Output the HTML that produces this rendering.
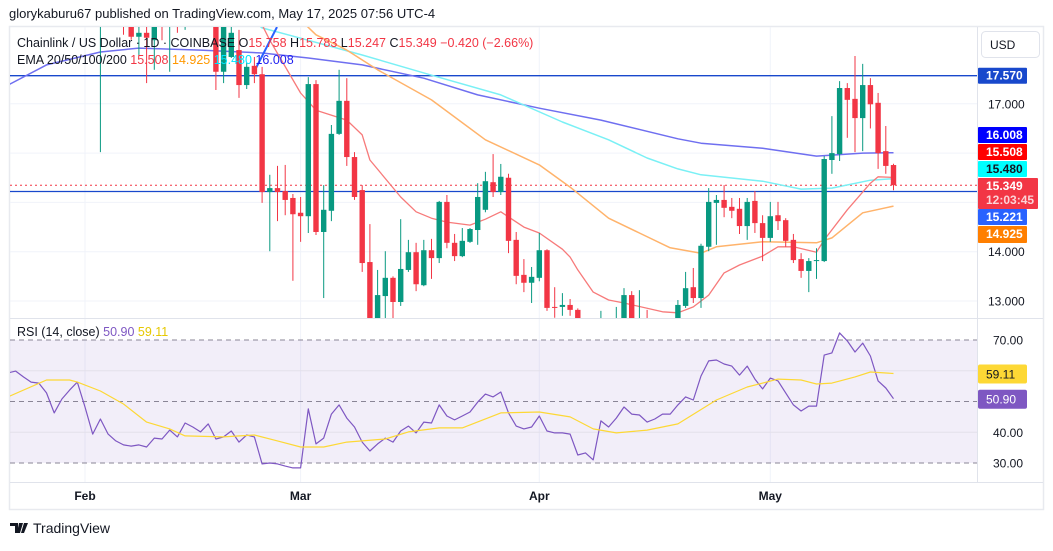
<!DOCTYPE html>
<html><head><meta charset="utf-8">
<style>
html,body{margin:0;padding:0;background:#fff;}
body{width:1053px;height:546px;overflow:hidden;font-family:"Liberation Sans",Arial,sans-serif;}
svg text{font-family:"Liberation Sans",Arial,sans-serif;}
</style></head>
<body>
<svg id="chart" width="1053" height="546" viewBox="0 0 1053 546" xmlns="http://www.w3.org/2000/svg">
<defs>
<clipPath id="cp"><rect x="10" y="27" width="967" height="291"/></clipPath>
<clipPath id="cr"><rect x="10" y="319" width="967" height="163"/></clipPath>
</defs>
<text x="9" y="18" font-size="13" fill="#131722">glorykaburu67 published on TradingView.com, May 17, 2025 07:56 UTC-4</text>
<rect x="9.5" y="26.5" width="1034" height="483" fill="none" stroke="#e8eaef" stroke-width="1.5"/>
<g id="grid"></g>
<rect x="10" y="340" width="967" height="123" fill="#7e57c2" fill-opacity="0.1"/>
<g id="rsigrid"></g>
<g id="price" clip-path="url(#cp)"></g>
<g id="rsi" clip-path="url(#cr)"></g>
<line x1="10" y1="318.5" x2="1043" y2="318.5" stroke="#e0e3eb"/>
<line x1="10" y1="482.5" x2="1043" y2="482.5" stroke="#e0e3eb"/>
<line x1="977.5" y1="27" x2="977.5" y2="482" stroke="#e0e3eb"/>
<g id="axis"></g>
<g font-size="12.5">
<text x="17" y="47" fill="#131722">Chainlink / US Dollar · 1D · COINBASE <tspan fill="#131722">O</tspan><tspan fill="#f23645">15.758</tspan> <tspan fill="#131722">H</tspan><tspan fill="#f23645">15.783</tspan> <tspan fill="#131722">L</tspan><tspan fill="#f23645">15.247</tspan> <tspan fill="#131722">C</tspan><tspan fill="#f23645">15.349</tspan> <tspan fill="#f23645">−0.420 (−2.66%)</tspan></text>
<text x="17" y="64" fill="#131722">EMA 20/50/100/200 <tspan fill="#f23645">15.508</tspan> <tspan fill="#ff9800">14.925</tspan> <tspan fill="#00e5ff">15.480</tspan> <tspan fill="#1e1ef0">16.008</tspan></text>
<text x="17" y="336" fill="#131722">RSI (14, close) <tspan fill="#7e57c2">50.90</tspan> <tspan fill="#e6c800">59.11</tspan></text>
</g>
<g>
<rect x="981.5" y="31.5" width="58" height="26" rx="4" fill="#fff" stroke="#e0e3eb"/>
<text x="990" y="49" font-size="12" fill="#131722">USD</text>
</g>
<g>
<path d="M10 523h8v10h-3v-7h-5z M19 523h4l-3 10h-3z M24 523h4l-4 10h-3z" fill="#131722"/>
<text x="33" y="533" font-size="14" fill="#131722">TradingView</text>
</g>
</svg>
<script>
// ---- data ----
const startDay = 12;
const opens = [18.8,19.0,19.8,19.2,18.9,18.36,18.44,18.29,18.9,18.6,19.0,18.8,19.0,19.4,19.2,19.0,17.65,17.95,18.09,17.38,17.77,17.60,15.21,15.29,15.23,15.09,14.79,14.72,17.40,14.40,14.83,16.39,17.06,15.92,15.25,13.79,12.6,13.10,13.47,12.98,13.63,13.99,13.32,14.03,13.87,15.01,14.18,13.91,14.20,14.44,14.85,15.41,15.21,15.50,14.24,13.53,13.37,13.47,14.03,12.88,12.88,12.92,12.82,12.55,12.30,12.40,12.60,12.50,12.50,13.12,12.60,12.64,12.55,12.60,12.55,12.50,12.90,13.28,13.06,14.10,14.99,15.05,14.91,14.87,14.52,15.03,14.58,14.28,14.74,14.64,14.24,13.85,13.61,13.81,13.81,15.86,15.98,17.32,17.10,16.71,17.38,17.02,16.04,15.758];
const highs = [19.2,20.0,20.0,19.4,19.0,18.7,18.6,19.0,19.1,19.0,19.2,19.3,19.6,19.7,19.8,19.3,18.9,18.7,18.5,17.83,17.95,17.75,15.56,15.74,15.76,15.17,15.11,17.54,17.48,15.35,16.57,17.69,17.52,16.02,15.35,14.56,13.63,14.01,13.50,14.66,14.24,14.18,14.24,14.26,15.03,15.15,14.36,14.48,14.48,15.39,15.62,15.98,15.78,15.58,14.40,13.85,13.69,14.38,14.05,13.28,13.16,13.04,12.85,12.60,12.50,12.80,12.64,12.88,13.26,13.20,13.22,12.82,12.64,12.64,12.62,13.02,13.59,13.67,14.16,15.29,15.15,15.35,15.09,15.09,15.09,15.23,14.74,15.01,15.01,14.68,14.36,13.97,13.87,14.07,15.94,16.75,17.46,17.42,17.97,17.81,17.52,17.22,16.55,15.783];
const lows = [16.02,18.9,18.8,18.40,18.30,17.99,17.42,17.69,18.29,17.65,18.44,18.50,18.8,19.0,19.0,17.28,17.42,17.93,17.12,17.30,17.42,14.99,14.01,14.62,14.74,13.41,14.20,14.38,14.34,13.06,14.62,16.37,15.74,15.05,13.59,12.5,12.5,12.6,12.6,12.9,13.59,13.20,13.30,13.45,13.77,14.07,13.81,13.89,14.18,14.14,14.80,15.11,15.15,13.97,13.34,13.18,12.96,13.40,12.80,12.66,12.70,12.70,12.40,12.10,12.00,12.30,12.40,12.40,12.40,12.50,12.50,12.40,12.40,12.40,12.40,12.40,12.86,12.96,12.86,14.01,14.14,14.70,14.68,14.36,14.24,14.38,13.81,14.20,14.44,14.10,13.77,13.47,13.18,13.45,13.79,15.58,15.84,16.31,16.02,16.04,16.50,15.68,15.58,15.247];
const closes = [19.0,19.8,19.2,18.9,18.36,18.44,18.34,18.9,18.6,18.9,18.8,19.0,19.4,19.2,19.5,17.65,18.6,18.44,17.38,17.75,17.60,15.21,15.29,15.21,15.05,14.76,14.72,17.40,14.40,14.85,16.39,17.06,15.92,15.11,13.77,12.55,13.12,13.47,12.98,13.65,13.99,13.34,14.03,13.87,15.01,14.18,13.91,14.22,14.46,15.11,15.43,15.21,15.52,14.22,13.51,13.37,13.49,14.03,12.86,12.86,12.92,12.82,12.55,12.30,12.20,12.60,12.62,12.60,13.12,12.60,12.64,12.55,12.60,12.55,12.50,12.92,13.26,13.06,14.12,15.01,15.05,14.89,14.83,14.52,15.01,14.58,14.28,14.72,14.62,14.22,13.83,13.61,13.81,13.83,15.88,16.00,17.32,17.08,16.71,17.38,16.99,16.00,15.74,15.349];
const ema20Days = [33,34,38,40,44,46,47,51,53,55,57,60,62,64,67,69,72,73,74,76,78,80,85,87,89,91,93,95,98,100,102,105,106,109,112,113,115];
const ema20Vals = [18.6,18.29,17.22,16.87,16.67,16.37,15.86,15.11,14.81,14.68,14.60,14.54,14.66,14.81,14.50,14.38,14.05,13.89,13.63,13.18,13.02,12.96,12.78,12.76,12.88,13.12,13.57,13.73,13.91,14.10,14.10,13.99,14.24,14.85,15.39,15.52,15.508];
const ema50Days = [38,40,44,48,55,62,69,73,78,82,86,90,92,98,105,107,111,115];
const ema50Vals = [18.7,18.40,18.09,17.69,17.08,16.27,15.76,15.31,14.68,14.38,14.08,13.97,14.10,14.20,14.18,14.28,14.79,14.925];
const ema100Days = [31,33,38,46,55,64,72,78,83,87,90,98,103,107,112,115];
const ema100Vals = [18.8,18.54,18.33,17.99,17.58,17.18,16.63,16.27,15.90,15.68,15.56,15.43,15.27,15.29,15.45,15.48];
const ema200Days = [0,5,12,17,25,33,39,46,54,61,69,77,87,90,98,105,111,115];
const ema200Vals = [17.38,17.79,18.05,18.13,18.09,18.03,17.93,17.79,17.52,17.18,16.91,16.67,16.29,16.20,16.10,15.94,16.00,16.008];
const rsiVals = [59.3,59.9,58,56.3,56,52.8,46.3,50.8,53.7,56.3,48.2,39.4,44.3,39.4,37.2,35.9,35.5,35.9,35.2,38.1,37.8,40.7,38.5,43,41.7,40.1,42.7,37.8,38.5,40.4,36.8,39.1,38.5,29.7,30,29.7,29,28.4,28.4,47.6,36.2,38.1,45.9,48.9,44.6,41.7,36.8,33.9,36.2,38.1,36.8,40.4,42,39.8,43.3,43,48.9,45.3,44.0,45.3,46.6,49.8,52.4,51.5,53.1,46.3,42,41.1,41.7,45.3,40.4,39.8,39.8,39.4,32.6,33.3,31,43.7,41.7,44.6,48.2,45.9,45.6,43.3,44.3,45.9,45.9,48.9,51.5,50.5,58.3,63.2,63.5,62.2,61.5,58.6,61.5,57.3,54.1,57.6,56.7,52.8,48.9,46.9,48.5,48.5,65.1,65.8,72.3,69.7,66.1,69,64.8,56.7,54.4,50.9];
const rsiMaDays = [0,5,8,9,12,15,18,21,23,28,32,35,38,41,44,49,52,56,59,64,69,73,76,79,83,87,92,96,100,103,105,107,110,112,115];
const rsiMaVals = [51.5,57.0,57.0,56.3,53.4,49.2,43.3,41.1,38.8,38.5,39.1,37.2,35.2,35.2,36.8,37.8,40.1,41.4,41.4,46.3,46.6,45.0,41.1,39.8,40.7,42.7,50.5,54.7,57.3,57.0,55.7,56.0,58.0,59.6,59.11];
const hLines = [17.570, 15.221];
const lastPrice = 15.349;
const priceTicks = [13, 14, 15, 16, 17];
const priceTickLabels = ["13.000","14.000","17.000"];
const priceTickLabelVals = [13,14,17];
const rsiTicks = [70, 60, 50, 40, 30];
const rsiTickLabels = ["70.00","40.00","30.00"];
const rsiTickLabelVals = [70,40,30];
const monthLabels = ["Feb","Mar","Apr","May"];
const monthDays = [10,38,69,99];

// ---- scales ----
const xOf = d => 8 + d * 7.7;
const yP = p => 301 - (p - 13) * 49.3;
const yR = v => 340 + (70 - v) * 3.075;
const NS = "http://www.w3.org/2000/svg";
function mk(tag, attrs, parent) {
  const e = document.createElementNS(NS, tag);
  for (const k in attrs) e.setAttribute(k, attrs[k]);
  parent.appendChild(e);
  return e;
}
const G = document.getElementById('grid');
const RG = document.getElementById('rsigrid');
const P = document.getElementById('price');
const R = document.getElementById('rsi');
const A = document.getElementById('axis');

priceTicks.forEach(p => {
  const l = mk('line', {x1:10, x2:977, y1:yP(p), y2:yP(p), stroke:'#f0f3fa', 'stroke-width':1}, G);
  
  
});
monthDays.forEach(d => {
  const l = mk('line', {x1:xOf(d), x2:xOf(d), y1:27, y2:482, stroke:'#f0f3fa', 'stroke-width':1}, G);
  
  
});
rsiTicks.forEach(v => {
  const dashed = (v === 70 || v === 50 || v === 30);
  const l = mk('line', {x1:10, x2:977, y1:yR(v), y2:yR(v), stroke: dashed ? '#8a8596' : '#e3e0ea', 'stroke-width':1, 'stroke-dasharray': dashed ? '5,4' : 'none'}, RG);
  
  
});

hLines.forEach(p => {
  const l = mk('line', {x1:10, x2:977, y1:yP(p), y2:yP(p), stroke:'#1848cc', 'stroke-width':1.3}, P);
  
  
});
const ll = mk('line', {x1:10, x2:977, y1:yP(lastPrice), y2:yP(lastPrice), stroke:'#f23645', 'stroke-width':1, 'stroke-dasharray':'2,3'}, P);



function poly(days, vals, color, name, width) {
  const pts = days.map((d, i) => xOf(d).toFixed(1) + ',' + yP(vals[i]).toFixed(1)).join(' ');
  const e = mk('polyline', {points:pts, fill:'none', stroke:color, 'stroke-width':width, 'stroke-linejoin':'round'}, P);
  
  
}
poly(ema200Days, ema200Vals, '#6f6ff0', 'ema-200-line', 1.5);
poly(ema100Days, ema100Vals, '#7af0f5', 'ema-100-line', 1.5);
poly(ema50Days, ema50Vals, '#ffb36b', 'ema-50-line', 1.5);
poly(ema20Days, ema20Vals, '#f77a7a', 'ema-20-line', 1.3);

const tl = mk('line', {x1:256, y1:68, x2:277, y2:27, stroke:'#2962ff', 'stroke-width':2}, P);



opens.forEach((o, i) => {
  const d = startDay + i;
  const c = closes[i], h = highs[i], lo = lows[i];
  const col = c >= o ? '#089981' : '#f23645';
  const x = xOf(d);
  const g = mk('g', {}, P);
  
  
  mk('line', {x1:x, x2:x, y1:yP(h), y2:yP(lo), stroke:col, 'stroke-width':1}, g);
  const top = yP(Math.max(o, c)), bot = yP(Math.min(o, c));
  mk('rect', {x:x - 2.7, y:top, width:5.4, height:Math.max(1, bot - top), fill:col}, g);
});

const rsiPts = rsiVals.map((v, i) => xOf(i).toFixed(1) + ',' + yR(v).toFixed(1)).join(' ');
const rl = mk('polyline', {points:rsiPts, fill:'none', stroke:'#7e57c2', 'stroke-width':1.2, 'stroke-linejoin':'round'}, R);


const maPts = rsiMaDays.map((d, i) => xOf(d).toFixed(1) + ',' + yR(rsiMaVals[i]).toFixed(1)).join(' ');
const ml = mk('polyline', {points:maPts, fill:'none', stroke:'#fdd835', 'stroke-width':1.2, 'stroke-linejoin':'round'}, R);



function txt(x, y, s, color, name, size, weight) {
  const t = mk('text', {x:x, y:y, fill:color, 'font-size':size || 12, 'font-weight':weight || 'normal'}, A);
  t.textContent = s;
  
  
  return t;
}
priceTickLabelVals.forEach((p, i) => txt(988, yP(p) + 4.5, priceTickLabels[i], '#131722', 'price-tick-label'));
rsiTickLabelVals.forEach((v, i) => txt(993, yR(v) + 4.5, rsiTickLabels[i], '#131722', 'rsi-tick-label'));
monthDays.forEach((d, i) => {
  const t = txt(xOf(d), 500, monthLabels[i], '#131722', 'month-label', 12, 'bold');
  t.setAttribute('text-anchor', 'middle');
});
function box(y, h, w, bg, lines, name, fg) {
  const g = mk('g', {}, A);
  
  
  mk('rect', {x:978, y:y, width:w, height:h, fill:bg, rx:1}, g);
  lines.forEach((s, k) => {
    const t = mk('text', {x:986, y:y + 12 + k * 14, fill:k === 1 ? '#fbd3d7' : (fg || '#fff'), 'font-size':12, 'font-weight':'bold'}, g);
    t.textContent = s;
  });
}
box(yP(17.570) - 8, 16, 49, '#1848cc', ['17.570'], 'level-label-17570');
box(127, 16, 49, '#0000ff', ['16.008'], 'ema200-label');
box(144, 16, 49, '#ff0000', ['15.508'], 'ema20-label');
box(161, 16, 49, '#00ffff', ['15.480'], 'ema100-label', '#131722');
box(178, 31, 60, '#f23645', ['15.349', '12:03:45'], 'last-price-label');
box(209, 16, 49, '#2962ff', ['15.221'], 'level-label-15221');
box(226, 17, 49, '#ff7f00', ['14.925'], 'ema50-label');
const rb1 = mk('rect', {x:978, y:yR(59.11) - 9, width:49, height:19, fill:'#fdd835', rx:2}, A);


txt(986, yR(59.11) + 5, '59.11', '#131722', 'rsi-ma-value', 12);
const rb2 = mk('rect', {x:978, y:yR(50.9) - 9, width:49, height:19, fill:'#7e57c2', rx:2}, A);


txt(986, yR(50.9) + 5, '50.90', '#fff', 'rsi-value', 12);
</script>
</body></html>
